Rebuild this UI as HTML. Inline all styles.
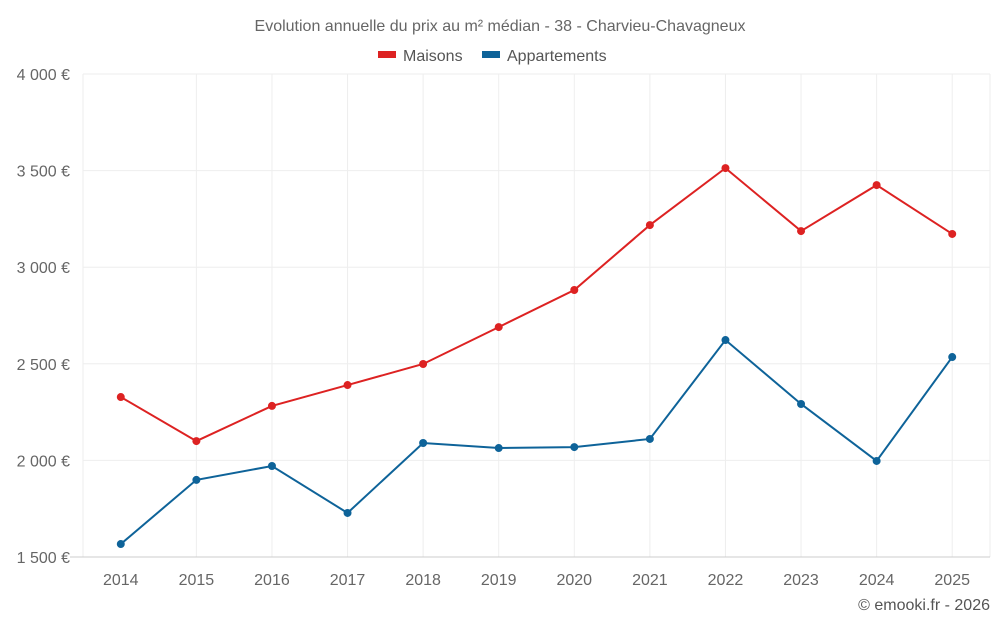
<!DOCTYPE html>
<html><head><meta charset="utf-8"><style>
body{margin:0;background:#fff;font-family:"Liberation Sans",sans-serif;}
svg text{font-family:"Liberation Sans",sans-serif;}
</style></head><body>
<svg id="chart" width="1000" height="625" xmlns="http://www.w3.org/2000/svg">
<text x="500" y="31" text-anchor="middle" font-size="16" fill="#666">Evolution annuelle du prix au m² médian - 38 - Charvieu-Chavagneux</text>
<g><rect x="378" y="51" width="18" height="7" fill="#dd2222"/><text x="403" y="61" font-size="16" fill="#555">Maisons</text></g>
<g><rect x="482" y="51" width="18" height="7" fill="#0e6399"/><text x="507" y="61" font-size="16" fill="#555">Appartements</text></g>
<g id="grid"></g><g id="series"></g>
<text x="990" y="610" text-anchor="end" font-size="16" fill="#555">© emooki.fr - 2026</text>
</svg>
<script>
const years=[2014,2015,2016,2017,2018,2019,2020,2021,2022,2023,2024,2025];
const maisons=[2328,2100,2282,2390,2499,2690,2882,3218,3513,3187,3425,3172];
const appartements=[1567,1899,1971,1728,2090,2064,2069,2111,2623,2292,1997,2535];
const yTicks=[1500,2000,2500,3000,3500,4000];
const yLabels=["1 500 €","2 000 €","2 500 €","3 000 €","3 500 €","4 000 €"];
const L=83,R=990,T=74,B=557,ymin=1500,ymax=4000;
const ns="http://www.w3.org/2000/svg";
const bw=(R-L)/years.length;
const x=i=>L+bw*(i+0.5);
const y=v=>B-(v-ymin)/(ymax-ymin)*(B-T);
const g=document.getElementById('grid'),s=document.getElementById('series');
function mk(t,a,p){const e=document.createElementNS(ns,t);for(const k in a)e.setAttribute(k,a[k]);p.appendChild(e);return e;}
const vx=[L,R];
for(let i=1;i<years.length;i++)vx.push(x(i));
vx.forEach(px=>{const l=mk('line',{x1:px,x2:px,y1:T,y2:B,stroke:'#eee'},g);
 
 });
yTicks.forEach((v,i)=>{
 const l=mk('line',{x1:i==0?70:L,x2:R,y1:y(v),y2:y(v),stroke:i==0?'#ccc':'#eee'},g);
 
 
 const t=mk('text',{x:70,y:y(v)+6,'text-anchor':'end','font-size':16,fill:'#666'},g);t.textContent=yLabels[i];
 
 
});
years.forEach((yr,i)=>{const t=mk('text',{x:x(i),y:585,'text-anchor':'middle','font-size':16,fill:'#666'},g);t.textContent=yr;
 
 });
function series(data,color,name){
 const p=mk('polyline',{points:data.map((v,i)=>x(i)+','+y(v)).join(' '),fill:'none',stroke:color,'stroke-width':2},s);
 
 
 data.forEach((v,i)=>{const c=mk('circle',{cx:x(i),cy:y(v),r:4,fill:color},s);
 
 });
}
series(maisons,'#dd2222','maisons');
series(appartements,'#0e6399','appartements');
</script>
</body></html>
